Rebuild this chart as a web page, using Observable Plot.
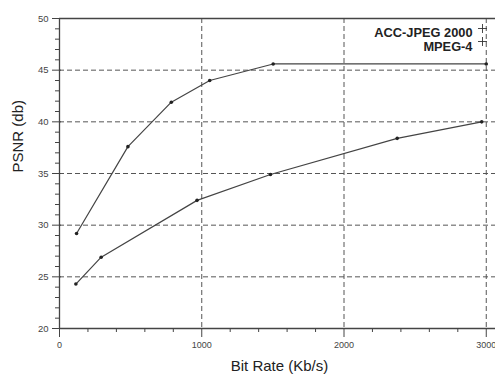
<!DOCTYPE html>
<html>
<head>
<meta charset="utf-8">
<script src="https://cdn.jsdelivr.net/npm/d3@7"></script>
<script src="https://cdn.jsdelivr.net/npm/@observablehq/plot@0.6"></script>
<style>
  html, body { margin: 0; padding: 0; background: #fff; overflow: hidden; }
  #chart svg { display: block; }
</style>
</head>
<body>
<div id="chart"></div>
<script>
// Data
const seriesNames = ["ACC-JPEG 2000", "MPEG-4"];
const bitRateA = [120, 481, 786, 1056, 1502, 3000];
const psnrA    = [29.2, 37.6, 41.9, 44.0, 45.6, 45.6];
const bitRateB = [115, 293, 967, 1483, 2374, 2968];
const psnrB    = [24.3, 26.9, 32.4, 34.9, 38.4, 40.0];
const xTicks = [0, 1000, 2000, 3000];
const yTicks = [20, 25, 30, 35, 40, 45, 50];
const xGrid = [1000, 2000, 3000];
const yGrid = [25, 30, 35, 40, 45];
const xMinor = d3.range(200, 3001, 200).filter(v => v % 1000 !== 0);
const yMinor = d3.range(21, 50, 1).filter(v => v % 5 !== 0);
const xLabel = "Bit Rate (Kb/s)";
const yLabel = "PSNR (db)";

const data = [
  ...bitRateA.map((x, i) => ({series: seriesNames[0], x, y: psnrA[i]})),
  ...bitRateB.map((x, i) => ({series: seriesNames[1], x, y: psnrB[i]}))
];

const ink = "#333";
const chart = Plot.plot({
  width: 495,
  height: 374,
  marginLeft: 59,
  marginRight: 0,
  marginTop: 18,
  marginBottom: 46,
  style: {fontFamily: "Arial, 'Liberation Sans', sans-serif", background: "#fff", color: ink, overflow: "visible"},
  x: {domain: [0, 3065]},
  y: {domain: [20, 50]},
  marks: [
    // grid
    Plot.ruleX(xGrid, {x: d => d, stroke: "#555", strokeDasharray: "5,3", strokeWidth: 1}),
    Plot.ruleY(yGrid, {y: d => d, stroke: "#555", strokeDasharray: "5,3", strokeWidth: 1}),
    // frame lines
    Plot.ruleY([50], {stroke: "#444", strokeWidth: 1.3}),
    Plot.ruleY([20], {stroke: "#444", strokeWidth: 1.3}),
    Plot.ruleX([0], {stroke: "#444", strokeWidth: 1.3}),
    // x axis ticks
    Plot.axisX({ticks: xTicks, tickSize: 9, text: null, label: null, stroke: "#444"}),
    Plot.axisX({ticks: xMinor, tickSize: 4, text: null, label: null, stroke: "#444"}),
    Plot.axisX({ticks: xTicks, tickSize: 0, tickPadding: 13, fontSize: 9, label: null, fill: "#444", tickFormat: d => String(d)}),
    // y axis ticks
    Plot.axisY({ticks: yTicks, tickSize: 9, dx: 2, text: null, label: null, stroke: "#444"}),
    Plot.axisY({ticks: yMinor, tickSize: 4, text: null, label: null, stroke: "#444"}),
    Plot.axisY({ticks: yTicks, tickSize: 0, tickPadding: 11, fontSize: 9.5, label: null, fill: "#444"}),
    // axis labels
    Plot.text([xLabel], {frameAnchor: "bottom", dy: 38, dx: 2, fontSize: 15, fill: "#222", lineAnchor: "middle"}),
    Plot.text([yLabel], {frameAnchor: "left", dx: -41, dy: -1, rotate: -90, fontSize: 15, fill: "#222"}),
    // series
    Plot.line(data, {x: "x", y: "y", z: "series", stroke: "#444", strokeWidth: 1.2}),
    Plot.dot(data, {x: "x", y: "y", r: 1.8, fill: "#222"}),
    // legend
    Plot.text([seriesNames[0]], {frameAnchor: "top-right", dx: -23, dy: 9, textAnchor: "end", fontSize: 12.8, fontWeight: "bold", fill: "#222"}),
    Plot.text([seriesNames[1]], {frameAnchor: "top-right", dx: -23, dy: 23, textAnchor: "end", fontSize: 12.8, fontWeight: "bold", fill: "#222"}),
    Plot.dot([seriesNames[0]], {frameAnchor: "top-right", dx: -13, dy: 10, symbol: "plus", r: 3, stroke: "#333", fill: "#333", strokeWidth: 0.9}),
    Plot.dot([seriesNames[1]], {frameAnchor: "top-right", dx: -13, dy: 23, symbol: "plus", r: 3, stroke: "#333", fill: "#333", strokeWidth: 0.9})
  ]
});
document.getElementById("chart").appendChild(chart);
</script>
</body>
</html>
